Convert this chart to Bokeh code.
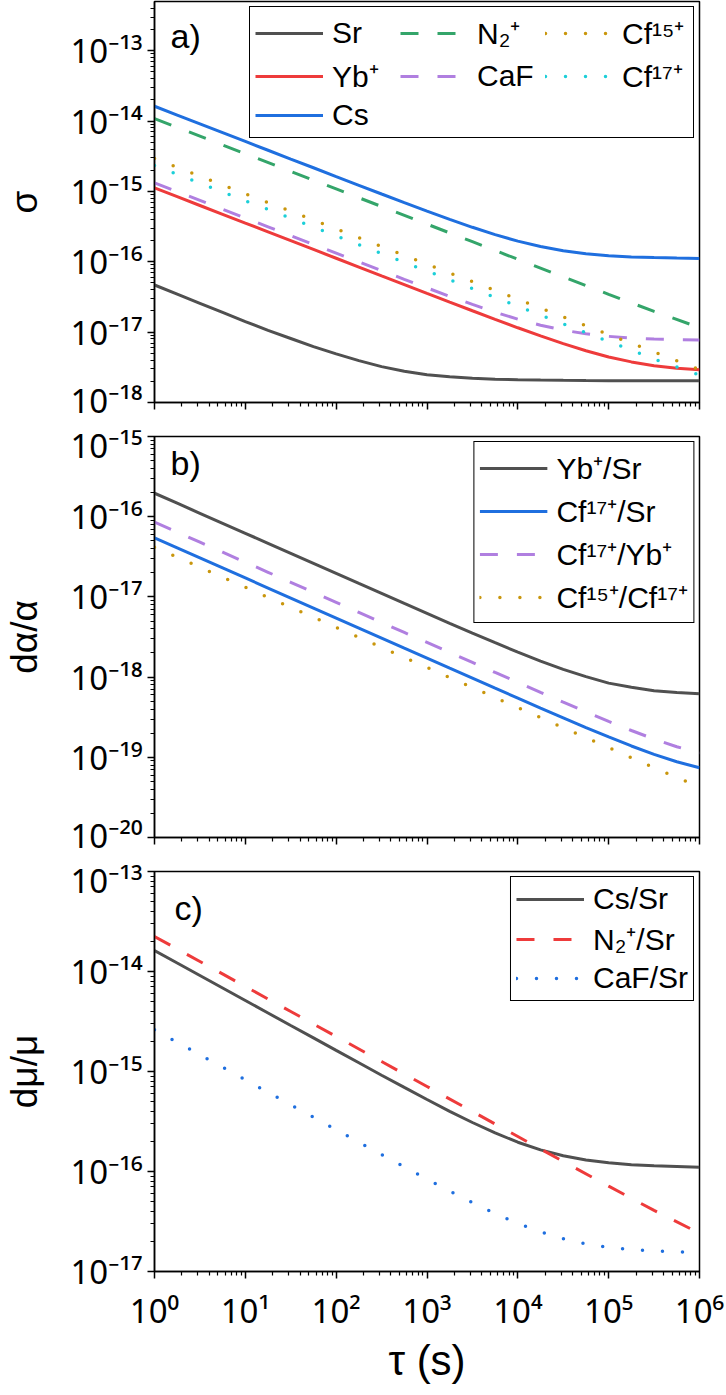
from bokeh.plotting import figure
from bokeh.models import FixedTicker, CustomJSTickFormatter, Legend, LegendItem, Label, Range1d
from bokeh.layouts import column
from bokeh.embed import file_html
from bokeh.resources import INLINE

# ---------------- data ----------------
# half-decade grid (straight curves) and quarter-decade grid (curved ones)
tau = [1, 3.162, 10, 31.62, 100, 316.2, 1000, 3162, 1e4, 3.162e4, 1e5, 3.162e5, 1e6]
tau_q = [1, 1.778, 3.162, 5.623, 10, 17.78, 31.62, 56.23, 100, 177.8, 316.2, 562.3,
         1000, 1778, 3162, 5623, 1e4, 1.778e4, 3.162e4, 5.623e4, 1e5, 1.778e5,
         3.162e5, 5.623e5, 1e6]

# panel a: sigma
sig_sr = [4.68e-17, 3.467e-17, 2.57e-17, 1.905e-17, 1.413e-17, 1.059e-17, 8.13e-18,
          6.237e-18, 4.90e-18, 3.936e-18, 3.236e-18, 2.786e-18, 2.483e-18, 2.317e-18,
          2.213e-18, 2.148e-18, 2.113e-18, 2.084e-18, 2.065e-18, 2.051e-18, 2.042e-18,
          2.042e-18, 2.042e-18, 2.042e-18, 2.042e-18]
sig_yb = [1.122e-15, 8.414e-16, 6.31e-16, 4.732e-16, 3.548e-16, 2.661e-16, 1.995e-16,
          1.496e-16, 1.122e-16, 8.414e-17, 6.31e-17, 4.742e-17, 3.556e-17, 2.673e-17,
          2.014e-17, 1.521e-17, 1.153e-17, 8.83e-18, 6.855e-18, 5.433e-18, 4.436e-18,
          3.776e-18, 3.334e-18, 3.062e-18, 2.911e-18]
sig_cs = [1.622e-14, 1.216e-14, 9.12e-15, 6.839e-15, 5.129e-15, 3.846e-15, 2.884e-15,
          2.168e-15, 1.626e-15, 1.222e-15, 9.18e-16, 6.934e-16, 5.248e-16, 4.0e-16,
          3.09e-16, 2.432e-16, 1.963e-16, 1.644e-16, 1.435e-16, 1.303e-16, 1.222e-16,
          1.172e-16, 1.146e-16, 1.13e-16, 1.117e-16]
sig_caf = [1.324e-15, 9.93e-16, 7.447e-16, 5.585e-16, 4.188e-16, 3.141e-16, 2.355e-16,
           1.766e-16, 1.327e-16, 9.95e-17, 7.499e-17, 5.636e-17, 4.256e-17, 3.228e-17,
           2.477e-17, 1.923e-17, 1.528e-17, 1.253e-17, 1.067e-17, 9.46e-18, 8.71e-18,
           8.241e-18, 7.98e-18, 7.834e-18, 7.745e-18]
sig_n2 = [1.084e-14, 6.095e-15, 3.428e-15, 1.928e-15, 1.084e-15, 6.095e-16, 3.428e-16,
          1.928e-16, 1.084e-16, 6.11e-17, 3.45e-17, 1.972e-17, 1.161e-17]
sig_cf15 = [2.931e-15, 1.648e-15, 9.27e-16, 5.21e-16, 2.931e-16, 1.648e-16, 9.27e-17,
            5.21e-17, 2.931e-17, 1.648e-17, 9.27e-18, 5.21e-18, 2.95e-18]
sig_cf17 = [2.333e-15, 1.312e-15, 7.38e-16, 4.15e-16, 2.333e-16, 1.312e-16, 7.38e-17,
            4.15e-17, 2.333e-17, 1.312e-17, 7.38e-18, 4.15e-18, 2.455e-18]

# panel b: d alpha / alpha
da_yb_sr = [1.963e-16, 1.472e-16, 1.104e-16, 8.279e-17, 6.209e-17, 4.656e-17, 3.491e-17,
            2.618e-17, 1.963e-17, 1.472e-17, 1.107e-17, 8.299e-18, 6.237e-18, 4.688e-18,
            3.54e-18, 2.685e-18, 2.046e-18, 1.585e-18, 1.25e-18, 1.014e-18, 8.414e-19,
            7.482e-19, 6.761e-19, 6.412e-19, 6.18e-19]
da_cf17_sr = [5.445e-17, 4.083e-17, 3.062e-17, 2.296e-17, 1.722e-17, 1.291e-17, 9.683e-18,
              7.261e-18, 5.445e-18, 4.083e-18, 3.062e-18, 2.296e-18, 1.722e-18, 1.291e-18,
              9.705e-19, 7.278e-19, 5.47e-19, 4.111e-19, 3.105e-19, 2.35e-19, 1.795e-19,
              1.384e-19, 1.089e-19, 8.81e-20, 7.396e-20]
da_cf17_yb = [8.551e-17, 6.412e-17, 4.808e-17, 3.606e-17, 2.704e-17, 2.028e-17, 1.521e-17,
              1.14e-17, 8.551e-18, 6.412e-18, 4.808e-18, 3.606e-18, 2.704e-18, 2.028e-18,
              1.524e-18, 1.143e-18, 8.59e-19, 6.457e-19, 4.864e-19, 3.681e-19, 2.80e-19,
              2.158e-19, 1.687e-19, 1.355e-19, 1.127e-19]
da_cf15_cf17 = [4.169e-17, 2.344e-17, 1.318e-17, 7.41e-18, 4.169e-18, 2.344e-18, 1.318e-18,
                7.41e-19, 4.169e-19, 2.344e-19, 1.318e-19, 7.41e-20, 4.27e-20]

# panel c: d mu / mu
dm_cs_sr = [1.622e-14, 1.216e-14, 9.12e-15, 6.839e-15, 5.129e-15, 3.846e-15, 2.884e-15,
            2.168e-15, 1.626e-15, 1.222e-15, 9.18e-16, 6.934e-16, 5.248e-16, 4.0e-16,
            3.09e-16, 2.432e-16, 1.963e-16, 1.644e-16, 1.435e-16, 1.303e-16, 1.222e-16,
            1.165e-16, 1.14e-16, 1.122e-16, 1.105e-16]
dm_caf_sr = [2.612e-15, 1.959e-15, 1.469e-15, 1.102e-15, 8.26e-16, 6.194e-16, 4.645e-16,
             3.483e-16, 2.618e-16, 1.963e-16, 1.476e-16, 1.112e-16, 8.395e-17, 6.383e-17,
             4.887e-17, 3.802e-17, 3.027e-17, 2.489e-17, 2.123e-17, 1.888e-17, 1.746e-17,
             1.656e-17, 1.603e-17, 1.574e-17, 1.56e-17]
dm_n2_sr = [2.239e-14, 1.259e-14, 7.08e-15, 3.981e-15, 2.239e-15, 1.259e-15, 7.08e-16,
            3.981e-16, 2.239e-16, 1.259e-16, 7.13e-17, 4.08e-17, 2.415e-17]

x_decades = [0, 1, 2, 3, 4, 5, 6]
ya_decades = [-18, -17, -16, -15, -14, -13]
yb_decades = [-20, -19, -18, -17, -16, -15]
yc_decades = [-17, -16, -15, -14, -13]

# ---------------- styling ----------------
FONT = "Liberation Sans"
TICK_FONT = "Noto Sans"
GRAY = "#505050"
RED = "#EE3B3B"
BLUE = "#1F6FDF"
GREEN = "#34A56A"
PURPLE = "#B07FE0"
GOLD = "#C9960C"
CYAN = "#1CCFD8"
DASH = "18 19"
DOT = "0 20"
LW = 3

fmt = CustomJSTickFormatter(code="""
const sup = {'0':'\u2070','1':'\u00b9','2':'\u00b2','3':'\u00b3','4':'\u2074','5':'\u2075',
             '6':'\u2076','7':'\u2077','8':'\u2078','9':'\u2079','-':'\u207b'};
const e = Math.round(Math.log10(tick));
return '10' + String(e).split('').map(c => sup[c]).join('');
""")


def ticker(decs, lo, hi):
    major = [10.0 ** d for d in decs]
    minor = []
    for d in range(decs[0] - 1, decs[-1] + 1):
        for m in range(2, 10):
            v = m * 10.0 ** d
            if lo * 1.0001 < v < hi * 0.9999:
                minor.append(v)
    return FixedTicker(ticks=major, minor_ticks=minor)


def make_fig(ylo, yhi, ydecs, frame_h, top_b, bot_b, ylabel, xlabels):
    p = figure(x_axis_type="log", y_axis_type="log",
               x_range=Range1d(1, 1e6), y_range=Range1d(ylo, yhi),
               frame_width=545, frame_height=frame_h,
               min_border_left=154, min_border_right=26,
               min_border_top=top_b, min_border_bottom=bot_b,
               output_backend="svg", toolbar_location=None)
    p.grid.visible = False
    p.outline_line_color = "black"
    p.outline_line_width = 1.5
    p.outline_line_alpha = 1.0
    p.background_fill_color = "white"
    p.border_fill_color = "white"
    p.xaxis.ticker = ticker(x_decades, 1, 1e6)
    p.yaxis.ticker = ticker(ydecs, ylo, yhi)
    for ax in (p.xaxis[0], p.yaxis[0]):
        ax.formatter = fmt
        ax.axis_line_width = 1.5
        ax.axis_line_color = "black"
        ax.major_tick_line_width = 1.5
        ax.major_tick_line_color = "black"
        ax.minor_tick_line_width = 1.2
        ax.minor_tick_line_color = "black"
        ax.major_tick_out = 7
        ax.major_tick_in = 0
        ax.minor_tick_out = 4
        ax.minor_tick_in = 0
        ax.major_label_text_font = TICK_FONT
        ax.major_label_text_font_size = "33px"
        ax.major_label_text_color = "black"
        ax.axis_label_text_font = FONT
        ax.axis_label_text_font_style = "normal"
        ax.axis_label_text_color = "black"
    p.yaxis.axis_label = ylabel
    p.yaxis.axis_label_text_font_size = "37px"
    p.yaxis.axis_label_standoff = 22
    p.yaxis.major_label_standoff = 5
    if xlabels:
        p.xaxis.axis_label = "\u03c4 (s)"
        p.xaxis.axis_label_text_font_size = "42px"
        p.xaxis.major_label_standoff = 9
        p.xaxis.axis_label_standoff = 1
    else:
        p.xaxis.major_label_text_font_size = "1px"
        p.xaxis.major_label_text_color = None
        p.xaxis.major_label_standoff = 0
    return p


def style_legend(leg, label_w):
    leg.location = "top_right"
    leg.margin = 5
    leg.padding = 5
    leg.spacing = 2
    leg.glyph_width = 68
    leg.glyph_height = 30
    leg.label_standoff = 9
    leg.label_width = label_w
    leg.label_text_font = FONT
    leg.label_text_font_size = "30px"
    leg.label_text_color = "black"
    leg.border_line_color = "black"
    leg.border_line_width = 1.2
    leg.border_line_alpha = 1.0
    leg.background_fill_alpha = 1.0


def panel_label(p, x, y, text, dx, dy):
    p.add_layout(Label(x=x, y=y, text=text, x_offset=dx, y_offset=dy,
                       text_font=FONT, text_font_size="34px",
                       text_baseline="middle", text_align="left", text_color="black"))


# ---------------- panel a ----------------
pa = make_fig(1e-18, 5e-13, ya_decades, 401, 1, 20, "\u03c3", False)
r_sr = pa.line(tau_q, sig_sr, line_color=GRAY, line_width=LW)
r_yb = pa.line(tau_q, sig_yb, line_color=RED, line_width=LW)
r_cs = pa.line(tau_q, sig_cs, line_color=BLUE, line_width=LW)
r_n2 = pa.line(tau, sig_n2, line_color=GREEN, line_width=LW, line_dash=DASH)
r_caf = pa.line(tau_q, sig_caf, line_color=PURPLE, line_width=LW, line_dash=DASH)
r_cf15 = pa.line(tau, sig_cf15, line_color=GOLD, line_width=3.5, line_dash=DOT, line_cap="round")
r_cf17 = pa.line(tau, sig_cf17, line_color=CYAN, line_width=3.5, line_dash=DOT, line_cap="round")
leg_a = Legend(items=[
    LegendItem(label="Sr", renderers=[r_sr]),
    LegendItem(label="N\u2082\u207a", renderers=[r_n2]),
    LegendItem(label="Cf\u00b9\u2075\u207a", renderers=[r_cf15]),
    LegendItem(label="Yb\u207a", renderers=[r_yb]),
    LegendItem(label="CaF", renderers=[r_caf]),
    LegendItem(label="Cf\u00b9\u2077\u207a", renderers=[r_cf17]),
    LegendItem(label="Cs", renderers=[r_cs]),
], ncols=3, orientation="horizontal")
style_legend(leg_a, 66)
pa.add_layout(leg_a)
panel_label(pa, 1, 5e-13, "a)", 16, -34)

# ---------------- panel b ----------------
pb = make_fig(1e-20, 1e-15, yb_decades, 401, 14, 20, "d\u03b1/\u03b1", False)
b1 = pb.line(tau_q, da_yb_sr, line_color=GRAY, line_width=LW)
b2 = pb.line(tau_q, da_cf17_sr, line_color=BLUE, line_width=LW)
b3 = pb.line(tau_q, da_cf17_yb, line_color=PURPLE, line_width=LW, line_dash=DASH)
b4 = pb.line(tau, da_cf15_cf17, line_color=GOLD, line_width=3.5, line_dash=DOT, line_cap="round")
leg_b = Legend(items=[
    LegendItem(label="Yb\u207a/Sr", renderers=[b1]),
    LegendItem(label="Cf\u00b9\u2077\u207a/Sr", renderers=[b2]),
    LegendItem(label="Cf\u00b9\u2077\u207a/Yb\u207a", renderers=[b3]),
    LegendItem(label="Cf\u00b9\u2075\u207a/Cf\u00b9\u2077\u207a", renderers=[b4]),
])
style_legend(leg_b, 20)
pb.add_layout(leg_b)
panel_label(pb, 1, 1e-15, "b)", 16, -26)

# ---------------- panel c ----------------
pc = make_fig(1e-17, 1e-13, yc_decades, 400, 14, 123, "d\u03bc/\u03bc", True)
c1 = pc.line(tau_q, dm_cs_sr, line_color=GRAY, line_width=LW)
c2 = pc.line(tau, dm_n2_sr, line_color=RED, line_width=LW, line_dash=DASH)
c3 = pc.line(tau_q, dm_caf_sr, line_color=BLUE, line_width=3.5, line_dash=DOT, line_cap="round")
leg_c = Legend(items=[
    LegendItem(label="Cs/Sr", renderers=[c1]),
    LegendItem(label="N\u2082\u207a/Sr", renderers=[c2]),
    LegendItem(label="CaF/Sr", renderers=[c3]),
])
style_legend(leg_c, 20)
pc.add_layout(leg_c)
panel_label(pc, 1, 1e-13, "c)", 20, -36)

layout = column(pa, pb, pc, spacing=0)
open("out.html", "w").write(file_html(layout, INLINE))
